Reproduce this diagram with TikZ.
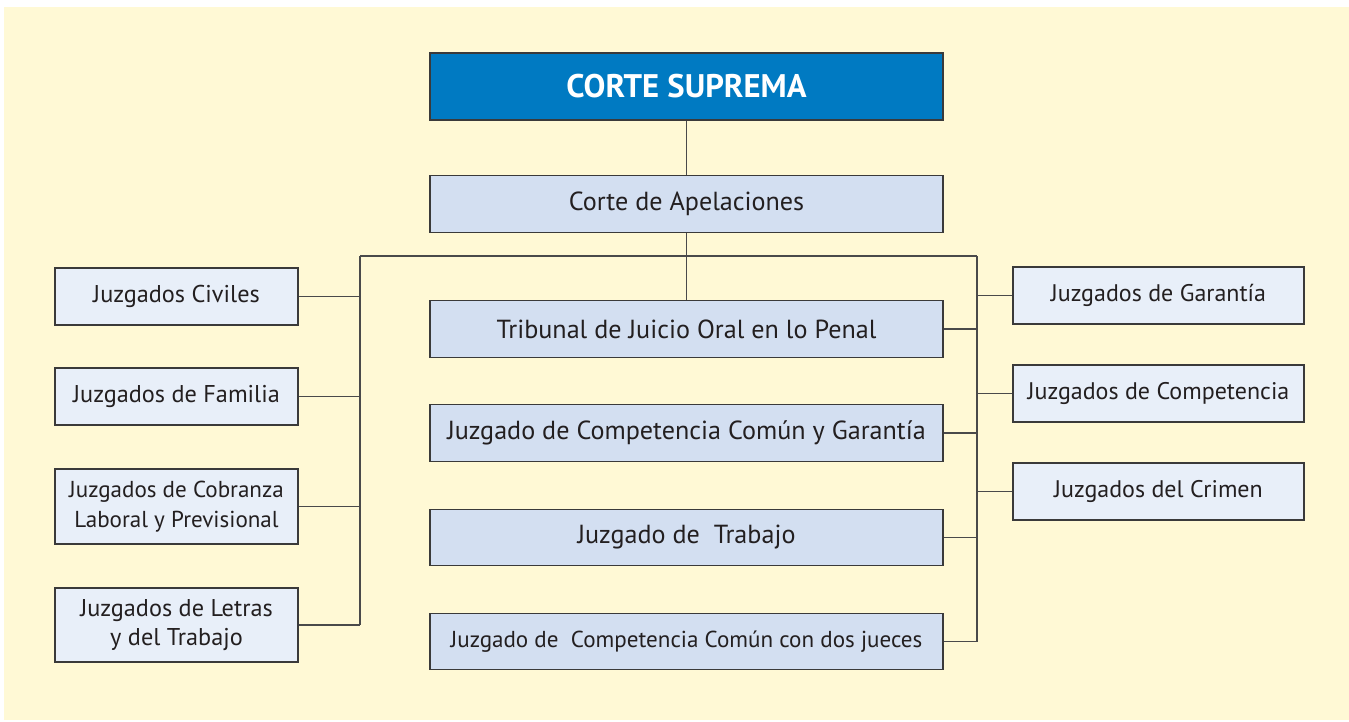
\documentclass[tikz,border=0pt]{standalone}
\usepackage{fontspec}
\setmainfont{PT Sans}
\definecolor{cream}{HTML}{FFF9D5}
\definecolor{topblue}{HTML}{007AC2}
\definecolor{midfill}{HTML}{D3DFF1}
\definecolor{sidefill}{HTML}{E8EFF9}
\definecolor{edge}{HTML}{3A3A3A}
\definecolor{wire}{HTML}{4A4A4A}
\definecolor{ink}{HTML}{231F20}
\tikzset{
  base/.style={draw=edge, line width=1.1pt, rectangle, inner sep=0pt, text=ink, align=center},
  topbox/.style={base, fill=topblue, minimum width=513*0.75pt, minimum height=67*0.75pt, text=white, font=\fontsize{24.5}{29}\selectfont\bfseries},
  midbox/.style={base, fill=midfill, minimum width=513*0.75pt, minimum height=56.5*0.75pt, font=\fontsize{19.6}{23}\selectfont},
  leftbox/.style={base, fill=sidefill, minimum width=243*0.75pt, font=\fontsize{18.2}{22}\selectfont},
  rightbox/.style={base, fill=sidefill, minimum width=291*0.75pt, minimum height=57*0.75pt, font=\fontsize{18}{22}\selectfont},
  wireline/.style={draw=wire, line width=0.9pt}
}
\begin{document}
\begin{tikzpicture}[x=0.75pt, y=-0.75pt]
\useasboundingbox (0,0) rectangle (1349,721);
\fill[white] (0,0) rectangle (1349,721);
\fill[cream] (4,7) rectangle (1349,720);

\node[topbox] (cs) at (686.5,86.5) {CORTE SUPREMA};
\node[midbox] (ca) at (686.5,204) {Corte de Apelaciones};
\node[midbox] (t1) at (686.5,329) {Tribunal de Juicio Oral en lo Penal};
\node[midbox] (t2) at (686.5,433) {Juzgado de Competencia Común y Garantía};
\node[midbox] (t3) at (686.5,537.5) {Juzgado de\ \ Trabajo};
\node[midbox, font=\fontsize{17.3}{21}\selectfont] (t4) at (686.5,641.5) {Juzgado de\ \ Competencia Común con dos jueces};

\node[leftbox, minimum height=57*0.75pt] (l1) at (176.5,296.5) {Juzgados Civiles};
\node[leftbox, minimum height=57*0.75pt] (l2) at (176.5,396.5) {Juzgados de Familia};
\node[leftbox, minimum height=75*0.75pt, font=\fontsize{17.3}{22}\selectfont] (l3) at (176.5,506.5) {Juzgados de Cobranza\\Laboral y Previsional};
\node[leftbox, minimum height=74*0.75pt] (l4) at (176.5,625) {Juzgados de Letras\\y del Trabajo};

\node[rightbox] (r1) at (1158.5,295.5) {Juzgados de Garantía};
\node[rightbox] (r2) at (1158.5,393.5) {Juzgados de Competencia};
\node[rightbox] (r3) at (1158.5,491.5) {Juzgados del Crimen};

\coordinate (busL) at (360,256);
\coordinate (busR) at (977,256);

\draw[wireline] (cs.south) -- (ca.north);
\draw[wireline] (ca.south) -- (t1.north);
\draw[wireline] (busL) -- (busR);
\draw[wireline] (busL) -- (busL |- l4.east);
\draw[wireline] (busR) -- (busR |- t4.east);
\foreach \n in {l1,l2,l3,l4} \draw[wireline] (\n.east) -- (\n.east -| busL);
\foreach \n in {t1,t2,t3,t4} \draw[wireline] (\n.east) -- (\n.east -| busR);
\foreach \n in {r1,r2,r3} \draw[wireline] (\n.west) -- (\n.west -| busR);
\end{tikzpicture}
\end{document}
